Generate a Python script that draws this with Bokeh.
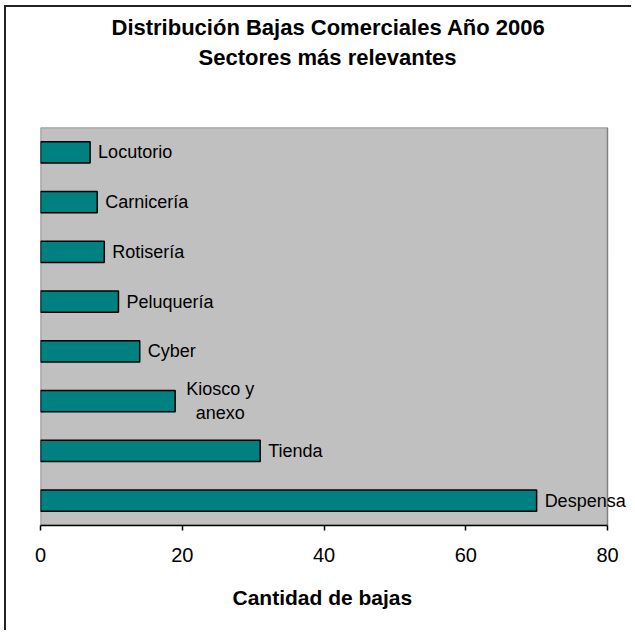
from bokeh.plotting import figure
from bokeh.models import (ColumnDataSource, FactorRange, Range1d, FixedTicker, Label, Title,
                          BoxAnnotation)
from bokeh.embed import file_html
from bokeh.resources import INLINE

# ---- data ----
categories = ["Locutorio", "Carnicería", "Rotisería", "Peluquería", "Cyber",
              "Kiosco y\nanexo", "Tienda", "Despensa"]
values = [7, 8, 9, 11, 14, 19, 31, 70]
x_ticks = [0, 20, 40, 60, 80]
title_line1 = "Distribución Bajas Comerciales Año 2006"
title_line2 = "Sectores más relevantes"
x_title = "Cantidad de bajas"

FONT_NAME = "Liberation Sans"

# layout (pixels)
W, H = 627, 625
LEFT, AREA_RIGHT = 34, 601          # grey plot area spans these canvas x positions
x_min, x_max = x_ticks[0], x_ticks[-1]
# the frame extends to the canvas edge so that end-of-bar labels are not clipped
x_end = x_min + (x_max - x_min) * (W - LEFT) / (AREA_RIGHT - LEFT)

src = ColumnDataSource(data=dict(cat=categories, val=values))
factors = list(reversed(categories))

p = figure(width=W, height=H,
           y_range=FactorRange(factors=factors, range_padding=0),
           x_range=Range1d(x_min, x_end),
           output_backend="svg", toolbar_location=None, title=None,
           min_border_left=LEFT, min_border_right=0, min_border_top=120, min_border_bottom=107,
           background_fill_color="white", border_fill_color="white",
           outline_line_color=None,
           styles={"margin-left": "4px", "margin-top": "5px",
                   "border-left": "2px solid #222", "border-top": "2px solid #222"})

# grey plot area
p.add_layout(BoxAnnotation(left=x_min, right=x_max, fill_color="#C0C0C0", fill_alpha=1.0,
                           line_color="#808080", line_alpha=1.0, line_width=1.5,
                           level="underlay"))

p.hbar(y="cat", left=0, right="val", height=0.43, source=src,
       fill_color="#008080", line_color="black", line_width=1.5)

# category labels at the end of each bar
for cat, val in zip(categories, values):
    multi = "\n" in cat
    ypos = factors.index(cat) + 0.5  # synthetic coordinate of the factor centre
    p.add_layout(Label(x=val, y=ypos, text=cat,
                       x_offset=45 if multi else 8,
                       text_align="center" if multi else "left",
                       text_baseline="middle", text_line_height=1.2,
                       text_font=FONT_NAME, text_font_size="18px", text_color="black"))

# titles (added from the plot outward)
p.add_layout(Title(text=" ", align="center", text_font=FONT_NAME, text_font_size="10px",
                   standoff=43), "above")
p.add_layout(Title(text=title_line2, align="left", offset=158, text_font=FONT_NAME,
                   text_font_size="22px", text_font_style="bold", text_color="black",
                   standoff=4), "above")
p.add_layout(Title(text=title_line1, align="left", offset=71, text_font=FONT_NAME,
                   text_font_size="22px", text_font_style="bold", text_color="black",
                   standoff=2), "above")

p.yaxis.visible = False
p.xgrid.visible = False
p.ygrid.visible = False

ax = p.xaxis[0]
ax.bounds = (x_min, x_max)
ax.ticker = FixedTicker(ticks=x_ticks)
ax.major_tick_out = 5
ax.major_tick_in = 0
ax.minor_tick_line_color = None
ax.axis_line_color = "black"
ax.axis_line_width = 1.5
ax.major_tick_line_color = "black"
ax.major_tick_line_width = 1.5
ax.major_label_text_font = FONT_NAME
ax.major_label_text_font_size = "20px"
ax.major_label_text_color = "black"
ax.major_label_standoff = 17

# x-axis title, centred under the grey plot area (not under the widened frame)
p.add_layout(Title(text=x_title, align="left", offset=192, text_font=FONT_NAME,
                   text_font_size="21px", text_font_style="bold", text_color="black",
                   standoff=39), "below")

open("out.html", "w").write(file_html(p, INLINE))
